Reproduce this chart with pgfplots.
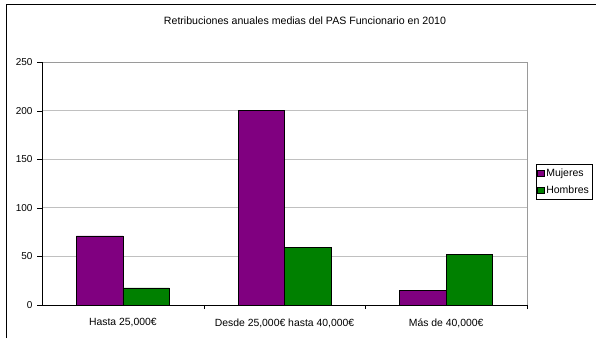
\documentclass[border=0pt]{standalone}
\usepackage{pgfplots}
\pgfplotsset{compat=1.18}
\usepackage{fontspec}
\setmainfont{Liberation Sans}
\definecolor{mpurple}{RGB}{128,0,128}
\definecolor{mgreen}{RGB}{0,128,0}
\definecolor{gridgray}{RGB}{192,192,192}
\begin{document}
\begin{tikzpicture}[x=1pt,y=1pt]
\path[use as bounding box] (0,0) rectangle (596,338);
\draw[black,line width=1pt] (6,0) -- (6,333) -- (596,333);
\node[font=\fontsize{10.6}{12}\selectfont] at (305,317) {Retribuciones anuales medias del PAS Funcionario en 2010};
\begin{axis}[
  at={(42pt,33pt)}, anchor=south west,
  scale only axis, width=485pt, height=243pt,
  xmin=-0.5, xmax=2.5, ymin=0, ymax=250,
  ybar=0pt, bar width=46.5pt,
  ytick={0,50,100,150,200,250},
  xtick={0,1,2},
  xticklabels={{Hasta 25,000€}, {Desde 25,000€ hasta 40,000€}, {Más de 40,000€}},
  x tick style={draw=none},
  extra x ticks={0.5,1.5,2.5},
  extra x tick labels={},
  extra x tick style={x tick style={draw=black}, major tick length=4pt, tick align=outside, grid=none},
  y tick style={black}, major tick length=5pt, tick align=outside,
  ytick pos=left, xtick pos=left,
  ymajorgrids, grid style={gridgray, line width=0.7pt},
  axis line style={draw=none},
  yticklabel style={font=\fontsize{10}{11}\selectfont, xshift=-1pt},
  xticklabel style={font=\fontsize{10.4}{11}\selectfont, yshift=-5pt},
  /pgf/number format/assume math mode=true,
  legend style={at={(axis description cs:1.0186,0.58)}, anchor=north west,
    draw=black, font=\fontsize{10.5}{11}\selectfont, inner xsep=1pt, inner ysep=2.5pt,
    row sep=4pt, cells={anchor=west}},
  legend image code/.code={\draw[#1,draw=black] (0pt,-3.3pt) rectangle (6.5pt,3.3pt);},
  enlarge x limits=false,
  clip=false,
]
\draw[gridgray!80!black, line width=0.8pt] (axis cs:-0.5,250) -- (axis cs:2.5,250) -- (axis cs:2.5,0);
\addplot[fill=mpurple, draw=black, line width=0.6pt] coordinates {(0,71) (1,200) (2,15)};
\addplot[fill=mgreen, draw=black, line width=0.6pt] coordinates {(0,17.5) (1,59) (2,52)};
\draw[black, line width=0.8pt] (axis cs:-0.5,250) -- (axis cs:-0.5,0) -- (axis cs:2.5,0);
\legend{Mujeres, Hombres}
\end{axis}
\end{tikzpicture}
\end{document}
